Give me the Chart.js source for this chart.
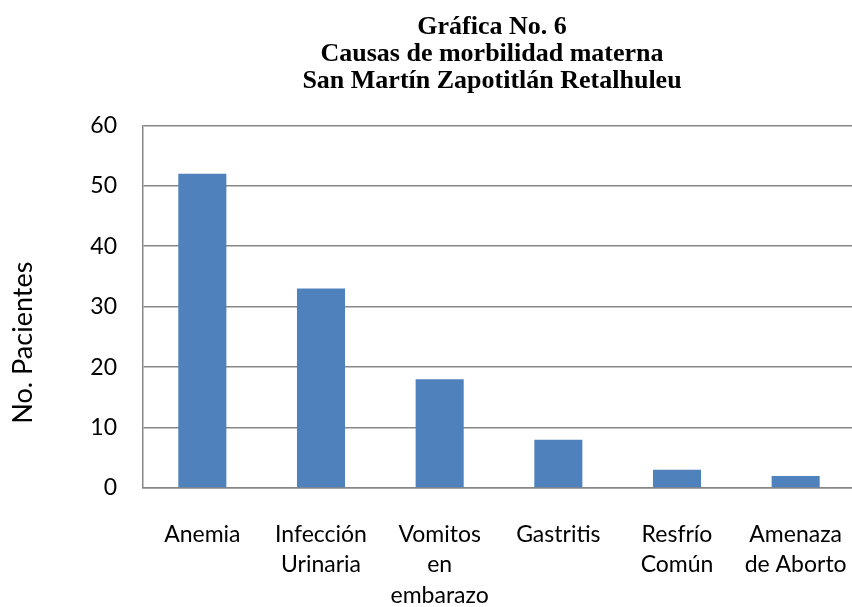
<!DOCTYPE html>
<html>
<head>
<meta charset="utf-8">
<script src="https://cdn.jsdelivr.net/npm/chart.js@4/dist/chart.umd.min.js"></script>
<style>
  html, body { margin: 0; padding: 0; overflow: hidden; background: #fff; }
  #chart { display: block; }
</style>
</head>
<body>
<canvas id="chart" width="984" height="607"></canvas>
<script>
// datos
const causas = [
  "Anemia",
  ["Infección", "Urinaria"],
  ["Vomitos", "en", "embarazo"],
  "Gastritis",
  ["Resfrío", "Común"],
  ["Amenaza", "de Aborto"],
];
const pacientes = [52, 33, 18, 8, 3, 2];
const tituloLineas = [
  "Gráfica No. 6",
  "Causas de morbilidad materna",
  "San Martín Zapotitlán Retalhuleu",
];
const ejeYTitulo = "No. Pacientes";
const yMin = 0;
const yMax = 60;
const yPaso = 10;

const gris = "#878787";
const fuente = "Lato, 'Open Sans', sans-serif";

// el titulo del eje Y va mas abajo y mas a la izquierda que el centro del eje
const tituloEjeY = {
  id: "tituloEjeY",
  afterDraw(chart) {
    const a = chart.chartArea;
    const c = chart.ctx;
    c.save();
    c.translate(a.left - 120, (a.top + a.bottom) / 2 + 36);
    c.rotate(-Math.PI / 2);
    c.font = "27px " + fuente;
    c.fillStyle = "#000";
    c.textAlign = "center";
    c.textBaseline = "middle";
    c.fillText(ejeYTitulo, 0, 0);
    c.restore();
  },
};

const ctx = document.getElementById("chart");
new Chart(ctx, {
  type: "bar",
  data: {
    labels: causas,
    datasets: [
      {
        label: "Pacientes",
        data: pacientes,
        backgroundColor: "#4F81BD",
        borderWidth: 0,
        categoryPercentage: 1,
        barPercentage: 0.405,
      },
    ],
  },
  options: {
    responsive: false,
    animation: false,
    layout: { padding: 0 },
    plugins: {
      legend: { display: false },
      tooltip: { enabled: false },
      title: {
        display: true,
        text: tituloLineas,
        color: "#000",
        font: { family: "'Liberation Serif', 'Times New Roman', serif", size: 26, weight: "bold", lineHeight: 1.03 },
        padding: { top: 14, bottom: 31 },
      },
    },
    scales: {
      x: {
        grid: { display: false },
        border: { display: true, color: gris, width: 1.5 },
        ticks: {
          color: "#000",
          font: { family: fuente, size: 23, lineHeight: 1.335 },
          maxRotation: 0,
          autoSkip: false,
          padding: 23,
        },
        afterFit: (s) => { s.height = 119; },
      },
      y: {
        min: yMin,
        max: yMax,
        grid: { color: gris, lineWidth: 1.5, drawTicks: false },
        border: { display: true, color: gris, width: 1.5 },
        ticks: {
          stepSize: yPaso,
          color: "#000",
          font: { family: fuente, size: 23 },
          padding: 26,
        },
        afterFit: (s) => { s.width = 143; },
      },
      // eje vacio a la derecha: deja el area del grafico cortada como en el original
      y2: {
        position: "right",
        display: true,
        grid: { display: false },
        border: { display: false },
        ticks: { display: false },
        afterFit: (s) => { s.width = 129; },
      },
    },
  },
  plugins: [tituloEjeY],
});
</script>
</body>
</html>
